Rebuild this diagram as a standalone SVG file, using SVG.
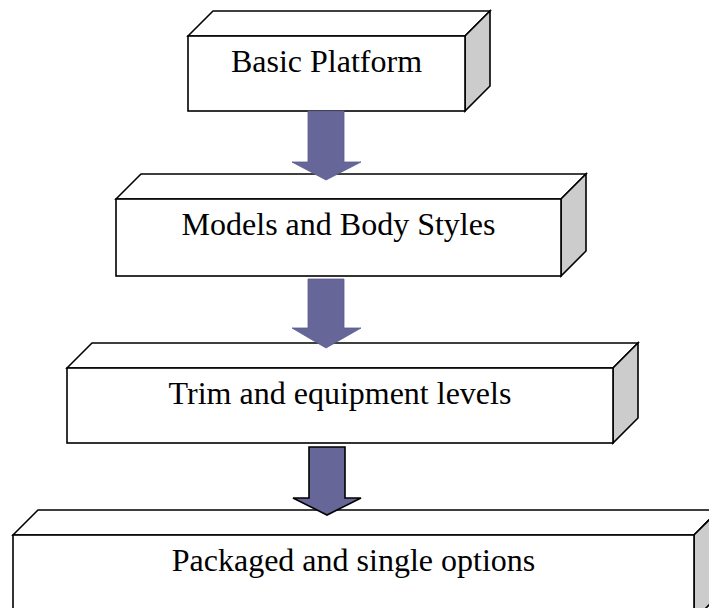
<svg xmlns="http://www.w3.org/2000/svg" width="709" height="608" viewBox="0 0 709 608">
  <style>
    .face { fill: #ffffff; stroke: #000000; stroke-width: 1.6; stroke-linejoin: miter; }
    .side { fill: #cccccc; stroke: #000000; stroke-width: 1.6; stroke-linejoin: miter; }
    .label { font-family: "Liberation Serif", "Times New Roman", serif; font-size: 32px; fill: #000000; text-anchor: middle; }
    .arrow { fill: #666699; stroke: #5c5c8f; stroke-width: 0.8; }
    .arrow-outlined { fill: #666699; stroke: #000000; stroke-width: 1.6; stroke-linejoin: miter; }
  </style>
  <rect width="709" height="608" fill="#ffffff"/>

  <!-- 3D boxes: top face, right side, front face (depth 25) -->
  <g id="basic-platform">
    <polygon class="face" points="188,36 213,11 490,11 465,36"/>
    <polygon class="side" points="465,36 490,11 490,86 465,111"/>
    <rect class="face" x="188" y="36" width="277" height="75"/>
    <text class="label" x="326.5" y="72">Basic Platform</text>
  </g>

  <g id="models-body-styles">
    <polygon class="face" points="116,199 141,174 586,174 561,199"/>
    <polygon class="side" points="561,199 586,174 586,251 561,276"/>
    <rect class="face" x="116" y="199" width="445" height="77"/>
    <text class="label" x="338.5" y="235">Models and Body Styles</text>
  </g>

  <g id="trim-equipment-levels">
    <polygon class="face" points="67,368 92,343 638,343 613,368"/>
    <polygon class="side" points="613,368 638,343 638,418 613,443"/>
    <rect class="face" x="67" y="368" width="546" height="75"/>
    <text class="label" x="340" y="404">Trim and equipment levels</text>
  </g>

  <g id="packaged-single-options">
    <polygon class="face" points="13,535 38,510 719,510 694,535"/>
    <polygon class="side" points="694,535 719,510 719,595 694,620"/>
    <rect class="face" x="13" y="535" width="681" height="85"/>
    <text class="label" x="353.5" y="571">Packaged and single options</text>
  </g>

  <!-- block arrows between levels -->
  <g id="connectors">
    <polygon class="arrow" points="308,111 344,111 344,162 361,162 326,180 292,162 308,162"/>
    <polygon class="arrow" points="308,279 344,279 344,328 361,328 326,348 292,328 308,328"/>
    <polygon class="arrow-outlined" points="309,447 345,447 345,498 361,498 327,515 293,498 309,498"/>
  </g>
</svg>
